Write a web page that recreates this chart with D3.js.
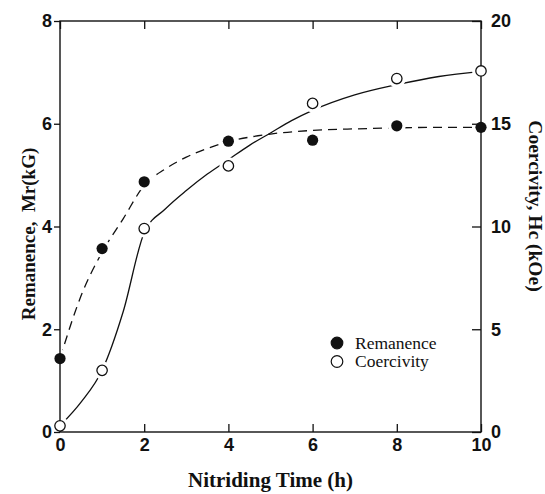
<!DOCTYPE html>
<html>
<head>
<meta charset="utf-8">
<script src="https://cdn.jsdelivr.net/npm/d3@7"></script>
<style>
  body { margin: 0; background: #fff; }
  svg { display: block; font-family: "Liberation Serif", "Times New Roman", serif; }
  .tick text { font-weight: bold; font-size: 18px; fill: #111; }
  .tick line { stroke: #111; stroke-width: 1.3; }
  .axis-title { font-weight: bold; fill: #111; }
</style>
</head>
<body>
<div id="chart"></div>
<script>
// Measured points
const times = [0, 1, 2, 4, 6, 8, 10];
const remanence = [1.43, 3.57, 4.87, 5.66, 5.68, 5.96, 5.93];
const coercivity = [0.3, 3.0, 9.9, 12.95, 15.99, 17.2, 17.57];

// Hand-drawn fit curves
const remFitT = [0, 0.5, 1, 1.5, 2, 2.5, 3, 3.5, 4, 5, 6, 7, 8, 9, 10];
const remFitV = [1.43, 2.65, 3.5, 4.15, 4.8, 5.12, 5.35, 5.52, 5.65, 5.8, 5.87, 5.9, 5.92, 5.93, 5.93];
const hcFitT = [0, 0.5, 1, 1.5, 2, 2.5, 3, 3.5, 4, 4.5, 5, 5.5, 6, 7, 8, 9, 10];
const hcFitV = [0.3, 1.45, 3.0, 5.85, 9.7, 10.85, 11.75, 12.55, 13.25, 13.95, 14.55, 15.15, 15.65, 16.4, 16.9, 17.3, 17.55];

const xTicks = [0, 2, 4, 6, 8, 10];
const leftTicks = [0, 2, 4, 6, 8];
const rightTicks = [0, 5, 10, 15, 20];

const width = 545;
const height = 494;
const margin = { top: 21, right: 64, bottom: 62, left: 60 };
const plotW = width - margin.left - margin.right;
const plotH = height - margin.top - margin.bottom;

const svg = d3
  .select("#chart")
  .append("svg")
  .attr("width", width)
  .attr("height", height);

const g = svg
  .append("g")
  .attr("transform", `translate(${margin.left},${margin.top})`);

// Scales
const x = d3.scaleLinear().domain([0, 10]).range([0, plotW]);
const yLeft = d3.scaleLinear().domain([0, 8]).range([plotH, 0]);
const yRight = d3.scaleLinear().domain([0, 20]).range([plotH, 0]);

// ---- FIT CURVES ----
const remLine = d3
  .line()
  .x((d) => x(d[0]))
  .y((d) => yLeft(d[1]))
  .curve(d3.curveMonotoneX);

const hcLine = d3
  .line()
  .x((d) => x(d[0]))
  .y((d) => yRight(d[1]))
  .curve(d3.curveMonotoneX);

g.append("path")
  .datum(d3.zip(remFitT, remFitV))
  .attr("fill", "none")
  .attr("stroke", "#111")
  .attr("stroke-width", 1.3)
  .attr("stroke-dasharray", "9 6")
  .attr("d", remLine);

g.append("path")
  .datum(d3.zip(hcFitT, hcFitV))
  .attr("fill", "none")
  .attr("stroke", "#111")
  .attr("stroke-width", 1.3)
  .attr("d", hcLine);

// white halos so the curves break around the markers
const remPts = d3.zip(times, remanence);
const hcPts = d3.zip(times, coercivity);

g.selectAll(".halo-rem")
  .data(remPts)
  .join("circle")
  .attr("cx", (d) => x(d[0]))
  .attr("cy", (d) => yLeft(d[1]))
  .attr("r", 9)
  .attr("fill", "#fff");

g.selectAll(".halo-hc")
  .data(hcPts)
  .join("circle")
  .attr("cx", (d) => x(d[0]))
  .attr("cy", (d) => yRight(d[1]))
  .attr("r", 9)
  .attr("fill", "#fff");

// ---- AXES ----
g.append("rect")
  .attr("width", plotW)
  .attr("height", plotH)
  .attr("fill", "none")
  .attr("stroke", "#111")
  .attr("stroke-width", 1.4);

g.append("g")
  .attr("transform", `translate(0,${plotH})`)
  .call(d3.axisBottom(x).tickValues(xTicks).tickSize(-8).tickPadding(6))
  .call((a) => a.select(".domain").remove());

g.append("g")
  .call(d3.axisTop(x).tickValues(xTicks).tickSize(-8).tickFormat(""))
  .call((a) => a.select(".domain").remove());

g.append("g")
  .call(d3.axisLeft(yLeft).tickValues(leftTicks).tickSize(6).tickPadding(2))
  .call((a) => a.select(".domain").remove());

g.append("g")
  .attr("transform", `translate(${plotW},0)`)
  .call(d3.axisRight(yRight).tickValues(rightTicks).tickSize(-9).tickPadding(10))
  .call((a) => a.select(".domain").remove());

g.selectAll(".tick text").attr("font-family", null).attr("font-size", null);

// ---- MARKERS ----
g.selectAll(".dot-rem")
  .data(remPts)
  .join("circle")
  .attr("class", "dot-rem")
  .attr("cx", (d) => x(d[0]))
  .attr("cy", (d) => yLeft(d[1]))
  .attr("r", 5.6)
  .attr("fill", "#111");

g.selectAll(".dot-hc")
  .data(hcPts)
  .join("circle")
  .attr("class", "dot-hc")
  .attr("cx", (d) => x(d[0]))
  .attr("cy", (d) => yRight(d[1]))
  .attr("r", 5.2)
  .attr("fill", "#fff")
  .attr("stroke", "#111")
  .attr("stroke-width", 1.3);

// ---- LEGEND ----
const legend = svg.append("g").attr("transform", "translate(337,343)");
const legendItems = [
  { label: "Remanence", filled: true },
  { label: "Coercivity", filled: false },
];
legendItems.forEach((item, i) => {
  legend
    .append("circle")
    .attr("cx", 0)
    .attr("cy", i * 18.5)
    .attr("r", 5.8)
    .attr("fill", item.filled ? "#111" : "#fff")
    .attr("stroke", "#111")
    .attr("stroke-width", 1.2);
  legend
    .append("text")
    .attr("x", 18)
    .attr("y", i * 18.5 + 5.5)
    .attr("font-size", "17.5px")
    .attr("fill", "#111")
    .text(item.label);
});

// ---- AXIS TITLES ----
svg
  .append("text")
  .attr("class", "axis-title")
  .attr("x", margin.left + plotW / 2)
  .attr("y", 487)
  .attr("text-anchor", "middle")
  .attr("font-size", "21px")
  .text("Nitriding Time (h)");

svg
  .append("text")
  .attr("class", "axis-title")
  .attr("transform", "translate(35,234) rotate(-90)")
  .attr("text-anchor", "middle")
  .attr("font-size", "19px")
  .text("Remanence,\u00A0 Mr(kG)");

svg
  .append("text")
  .attr("class", "axis-title")
  .attr("transform", "translate(529,206) rotate(90)")
  .attr("text-anchor", "middle")
  .attr("font-size", "19.5px")
  .text("Coercivity, Hc (kOe)");
</script>
</body>
</html>
